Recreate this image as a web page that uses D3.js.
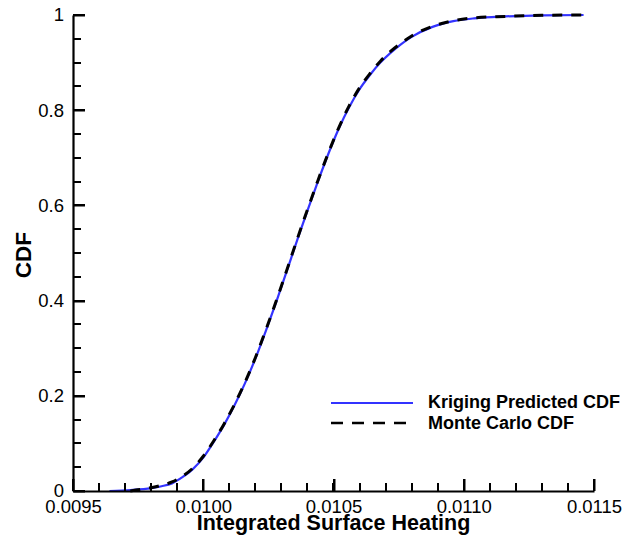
<!DOCTYPE html>
<html>
<head>
<meta charset="utf-8">
<script src="https://cdn.jsdelivr.net/npm/d3@7"></script>
<style>
  body { margin: 0; background: #fff; }
  text { font-family: "Liberation Sans", Arial, Helvetica, sans-serif; }
</style>
</head>
<body>
<svg id="chart" width="626" height="538"></svg>
<script>
// integrated surface heating values (x) and cdf (y)
var krigingX = [0.00964, 0.00972, 0.00980, 0.00984, 0.00988, 0.00992, 0.00996, 0.01000,
  0.01004, 0.01008, 0.01012, 0.01016, 0.01020, 0.01024, 0.01028, 0.01032, 0.01036,
  0.01040, 0.01044, 0.01048, 0.01052, 0.01056, 0.01060, 0.01064, 0.01068, 0.01072,
  0.01076, 0.01080, 0.01088, 0.01096, 0.01104, 0.01116, 0.01130, 0.01146];
var krigingCdf = [0, 0.002, 0.006, 0.010, 0.016, 0.029, 0.046, 0.070,
  0.103, 0.139, 0.180, 0.226, 0.278, 0.336, 0.397, 0.461, 0.526,
  0.589, 0.650, 0.708, 0.761, 0.806, 0.844, 0.874, 0.900, 0.921,
  0.939, 0.954, 0.975, 0.987, 0.993, 0.997, 0.9993, 1.0];

var monteX = [0.00972, 0.00980, 0.00984, 0.00988, 0.00992, 0.00996, 0.01000,
  0.01004, 0.01008, 0.01012, 0.01016, 0.01020, 0.01024, 0.01028, 0.01032, 0.01036,
  0.01040, 0.01044, 0.01048, 0.01052, 0.01056, 0.01060, 0.01064, 0.01068, 0.01072,
  0.01076, 0.01080, 0.01088, 0.01096, 0.01104, 0.01116, 0.01130, 0.01146];
var monteCdf = [0, 0.007, 0.012, 0.019, 0.031, 0.048, 0.073,
  0.105, 0.141, 0.182, 0.228, 0.280, 0.338, 0.399, 0.463, 0.528,
  0.591, 0.652, 0.710, 0.763, 0.809, 0.847, 0.877, 0.903, 0.924,
  0.941, 0.956, 0.976, 0.988, 0.994, 0.997, 0.9993, 1.0];

var xTicks = [0.0095, 0.0100, 0.0105, 0.0110, 0.0115];
var yTicks = [0, 0.2, 0.4, 0.6, 0.8, 1];
var legendNames = ["Kriging Predicted CDF", "Monte Carlo CDF"];

var svg = d3.select('#chart');
var plotLeft = 73, plotRight = 594, plotTop = 15, plotBottom = 491;

var x = d3.scaleLinear().domain([0.0095, 0.0115]).range([plotLeft, plotRight]);
var y = d3.scaleLinear().domain([0, 1]).range([plotBottom, plotTop]);

var xMinor = d3.range(0, 21).map(function(i) { return 0.0095 + i * 0.0001; });
var yMinor = d3.range(0, 21).map(function(i) { return i * 0.05; });

// curves
var line = d3.line().x(function(d) { return x(d[0]); }).y(function(d) { return y(d[1]); })
  .curve(d3.curveMonotoneX);

svg.append('path').datum(d3.zip(krigingX, krigingCdf))
  .attr('fill', 'none').attr('stroke', '#3333ff').attr('stroke-width', 2.2)
  .attr('d', line);
svg.append('path').datum(d3.zip(monteX, monteCdf))
  .attr('fill', 'none').attr('stroke', '#000').attr('stroke-width', 3)
  .attr('stroke-dasharray', '10,9')
  .attr('d', line);

// ticks as small filled rects, pointing inward
var tickG = svg.append('g').attr('fill', '#000');
tickG.selectAll('rect.xminor').data(xMinor).join('rect').attr('class', 'xminor')
  .attr('x', function(d) { return Math.round(x(d)) - 1; }).attr('y', plotBottom - 8)
  .attr('width', 2).attr('height', 8);
tickG.selectAll('rect.yminor').data(yMinor).join('rect').attr('class', 'yminor')
  .attr('y', function(d) { return Math.round(y(d)) - 1; }).attr('x', plotLeft)
  .attr('width', 8).attr('height', 2);
tickG.selectAll('rect.xmajor').data(xTicks).join('rect').attr('class', 'xmajor')
  .attr('x', function(d) { return Math.round(x(d)) - 1; }).attr('y', plotBottom - 12)
  .attr('width', 2.5).attr('height', 12);
tickG.selectAll('rect.ymajor').data(yTicks).join('rect').attr('class', 'ymajor')
  .attr('y', function(d) { return Math.round(y(d)) - 1; }).attr('x', plotLeft)
  .attr('width', 12).attr('height', 2.5);

// axis lines + labels
var xAxis = svg.append('g').attr('transform', 'translate(0,' + plotBottom + ')')
  .call(d3.axisBottom(x).tickValues(xTicks).tickSize(0).tickSizeOuter(0)
    .tickFormat(d3.format('.4f')));
xAxis.select('.domain').attr('stroke', '#000').attr('stroke-width', 2.2);
xAxis.selectAll('text').attr('font-size', 18.5).attr('fill', '#000').attr('dy', null).attr('y', 22);

var yAxis = svg.append('g').attr('transform', 'translate(' + plotLeft + ',0)')
  .call(d3.axisLeft(y).tickValues(yTicks).tickSize(0).tickSizeOuter(0)
    .tickFormat(function(d) { return d === 0 || d === 1 ? d : d3.format('.1f')(d); }));
yAxis.select('.domain').attr('stroke', '#000').attr('stroke-width', 2.2);
yAxis.selectAll('text').attr('font-size', 18.5).attr('fill', '#000').attr('x', -9);

// axis titles
svg.append('text').attr('x', (plotLeft + plotRight) / 2).attr('y', 530)
  .attr('text-anchor', 'middle').attr('font-size', 21.5).attr('font-weight', 'bold')
  .text('Integrated Surface Heating');
svg.append('text').attr('transform', 'translate(31,' + 255 + ') rotate(-90)')
  .attr('text-anchor', 'middle').attr('font-size', 22.5).attr('font-weight', 'bold')
  .text('CDF');

// legend
var legend = svg.append('g');
legend.append('line').attr('x1', 331).attr('x2', 413).attr('y1', 403).attr('y2', 403)
  .attr('stroke', '#3333ff').attr('stroke-width', 2.2);
legend.append('line').attr('x1', 331).attr('x2', 413).attr('y1', 423).attr('y2', 423)
  .attr('stroke', '#000').attr('stroke-width', 2.5).attr('stroke-dasharray', '12,9');
legend.selectAll('text.leg').data(legendNames).join('text').attr('class', 'leg')
  .attr('x', 428).attr('y', function(d, i) { return 408 + i * 21; })
  .attr('font-size', 18).attr('font-weight', 'bold')
  .text(function(d) { return d; });
</script>
</body>
</html>
